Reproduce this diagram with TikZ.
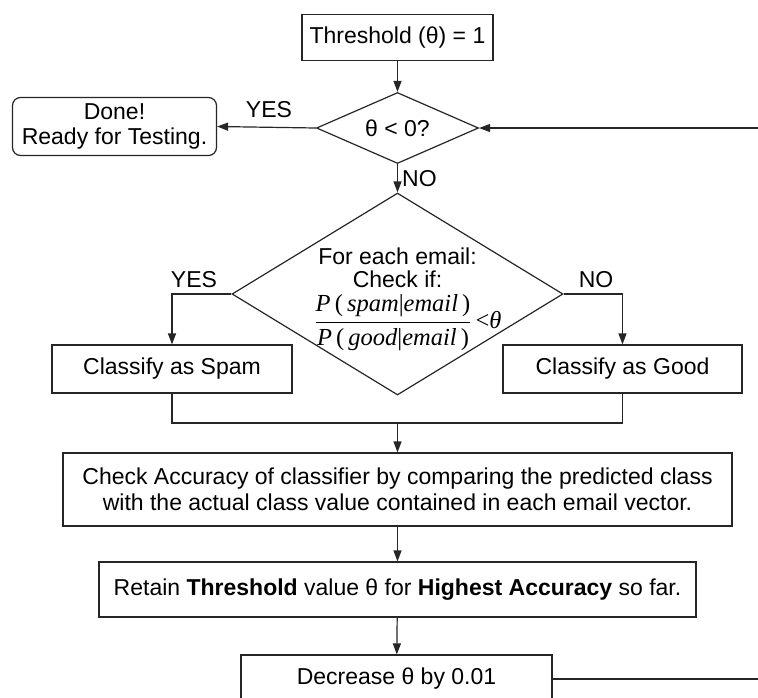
\documentclass[tikz,border=0pt]{standalone}
\usepackage{fontspec}
\setmainfont{Liberation Sans}
\newfontfamily\tms{Liberation Serif}
\usetikzlibrary{shapes.geometric,arrows.meta}
\begin{document}
\begin{tikzpicture}[x=1pt,y=-1pt,
  every node/.style={font=\fontsize{23}{25.5}\selectfont},
  box/.style={draw=black!85,line width=1.2pt,rectangle,inner sep=0pt,align=center},
  qbox/.style={draw=black!85,line width=1.2pt,diamond,inner sep=0pt},
  lbl/.style={inner sep=0pt},
  link/.style={line width=1.2pt,draw=black!85},
  arr/.style={link,-{Triangle[length=11pt,width=8pt]}}]
\useasboundingbox (0,0) rectangle (758,697);
\clip (0,0) rectangle (758,697);
\fill[white] (0,0) rectangle (758,697);

% boxes
\node[box,minimum width=191pt,minimum height=46pt] (thr) at (397.5,37.5) {Threshold (θ) = 1};
\node[qbox,minimum width=162pt,minimum height=71pt,aspect=2.28] (q1) at (397.5,128) {θ < 0?};
\node[box,rounded corners=8pt,minimum width=204pt,minimum height=58pt] (done) at (114.5,126.5) {Done!\\Ready for Testing.};
\node[qbox,minimum width=331pt,minimum height=202pt,aspect=1.64] (q2) at (397.5,294) {};
\node[lbl] (q2a) at (397.5,256) {For each email:};
\node[lbl] (q2b) at (397.5,279.5) {Check if:};
\node[lbl,font=\fontsize{24.5}{28}\selectfont] (q2c) at (408,323) {\tms$\displaystyle\frac{\hbox{\itshape P\,\upshape(\,\itshape spam\upshape|\itshape email\upshape\,)}}{\hbox{\itshape P\,\upshape(\,\itshape good\upshape|\itshape email\upshape\,)}}$\hbox{\,<\itshape θ}};
\node[box,minimum width=240pt,minimum height=48pt] (spam) at (172,369) {Classify as Spam};
\node[box,minimum width=239pt,minimum height=48pt] (good) at (622.5,369) {Classify as Good};
\node[box,minimum width=669pt,minimum height=73pt] (check) at (397.5,489.5) {Check Accuracy of classifier by comparing the predicted class\\with the actual class value contained in each email vector.};
\node[box,minimum width=597pt,minimum height=55pt] (keep) at (397.5,589.5) {Retain \textbf{Threshold} value θ for \textbf{Highest Accuracy} so far.};
\node[box,minimum width=311pt,minimum height=48pt] (decr) at (396.5,679) {Decrease θ by 0.01};

% branch labels
\node[lbl] (yes1) at (269,110) {YES};
\node[lbl,anchor=west] (no1) at (402,179) {NO};
\node[lbl] (yes2) at (194,280) {YES};
\node[lbl] (no2) at (596,280) {NO};

% helper points
\coordinate (loopin) at (770,128);
\coordinate (loopout) at (770,679);
\coordinate (join) at (397.5,423);

% connectors
\draw[arr] (thr) -- (q1);
\draw[arr] (q1.west) -- (done.east);
\draw[arr] (loopin) -- (q1.east);
\draw[arr] (q1.south) -- (q2.north);
\draw[arr] (q2.west) -| (spam.north);
\draw[arr] (q2.east) -| (good.north);
\draw[link] (spam.south) |- (join) -| (good.south);
\draw[arr] (join) -- (check.north);
\draw[arr] (check) -- (keep);
\draw[arr] (keep) -- (decr);
\draw[link] (decr.east) -- (loopout);
\end{tikzpicture}
\end{document}
